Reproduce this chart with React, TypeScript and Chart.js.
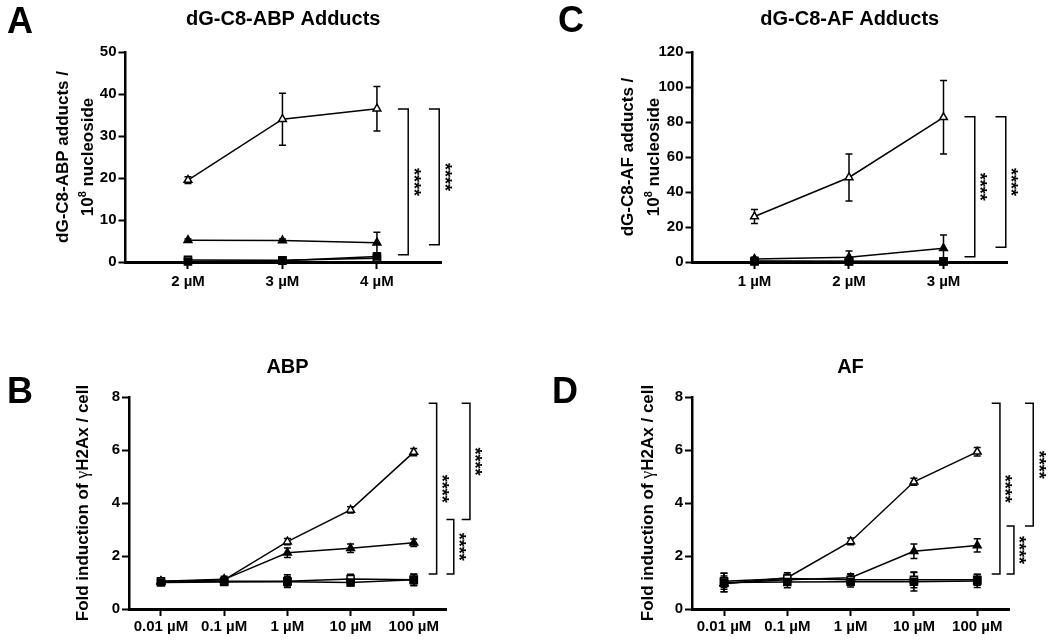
import React, { useEffect, useRef } from "react";
import { Chart, registerables } from "chart.js";

Chart.register(...registerables);

const FONT = '"Liberation Sans", Arial, Helvetica, sans-serif';
const SERIF = '"Liberation Serif", "DejaVu Serif", serif';

// ---------------- Panel A : dG-C8-ABP adducts ----------------
const aDoses = [2, 3, 4];
const aTickLabels = ["2 µM", "3 µM", "4 µM"];
const aOpenTri = [19.5, 34.0, 36.5];
const aOpenTriErr = [0.8, 6.2, 5.3];
const aFilledTri = [5.2, 5.1, 4.6];
const aFilledTriErr = [0.3, 0.4, 2.5];
const aOpenSq = [0.5, 0.4, 0.9];
const aOpenSqErr = [0.3, 0.3, 0.5];
const aFilledSq = [0.1, 0.3, 1.3];
const aFilledSqErr = [0.2, 0.3, 0.9];
// significance brackets: [bracket x, tick end x, top value, bottom value]
const aBrackets = [
  [4.331, 4.222, 36.4, 1.7],
  [4.659, 4.55, 36.4, 4.1],
];

// ---------------- Panel C : dG-C8-AF adducts ----------------
const cDoses = [1, 2, 3];
const cTickLabels = ["1 µM", "2 µM", "3 µM"];
const cOpenTri = [26.0, 48.3, 82.7];
const cOpenTriErr = [4.0, 13.4, 21.0];
const cFilledTri = [1.7, 2.7, 7.8];
const cFilledTriErr = [1.0, 3.6, 7.6];
const cOpenSq = [0.6, 0.5, 0.4];
const cOpenSqErr = [0.3, 0.3, 0.3];
const cFilledSq = [0.3, 0.3, 0.3];
const cFilledSqErr = [0.2, 0.2, 0.2];
const cBrackets = [
  [3.331, 3.222, 83.0, 3.0],
  [3.659, 3.55, 83.0, 8.4],
];

// ---------------- Panel B : ABP gammaH2Ax ----------------
const bDoses = [0, 1, 2, 3, 4];
const bTickLabels = ["0.01 µM", "0.1 µM", "1 µM", "10 µM", "100 µM"];
const bOpenTri = [1.03, 1.1, 2.54, 3.74, 5.92];
const bOpenTriErr = [0.08, 0.1, 0.12, 0.12, 0.14];
const bFilledTri = [1.05, 1.12, 2.12, 2.29, 2.5];
const bFilledTriErr = [0.08, 0.12, 0.18, 0.16, 0.14];
const bOpenSq = [1.05, 1.05, 1.05, 1.13, 1.1];
const bOpenSqErr = [0.1, 0.12, 0.24, 0.18, 0.2];
const bFilledSq = [1.0, 1.02, 1.03, 1.0, 1.1];
const bFilledSqErr = [0.08, 0.08, 0.2, 0.12, 0.22];
const bBrackets = [
  [4.362, 4.236, 7.76, 1.32],
  [4.889, 4.758, 7.76, 3.38],
  [4.633, 4.517, 3.38, 1.32],
];

// ---------------- Panel D : AF gammaH2Ax ----------------
const dDoses = [0, 1, 2, 3, 4];
const dTickLabels = ["0.01 µM", "0.1 µM", "1 µM", "10 µM", "100 µM"];
const dOpenTri = [0.95, 1.18, 2.55, 4.8, 5.93];
const dOpenTriErr = [0.3, 0.12, 0.13, 0.13, 0.16];
const dFilledTri = [0.97, 1.1, 1.18, 2.18, 2.4];
const dFilledTriErr = [0.15, 0.2, 0.15, 0.27, 0.25];
const dOpenSq = [1.05, 1.15, 1.1, 1.1, 1.1];
const dOpenSqErr = [0.3, 0.22, 0.2, 0.3, 0.2];
const dFilledSq = [1.0, 1.02, 1.03, 1.03, 1.06];
const dFilledSqErr = [0.35, 0.22, 0.2, 0.35, 0.25];
const dBrackets = [
  [4.359, 4.229, 7.76, 1.32],
  [4.885, 4.754, 7.76, 3.13],
  [4.58, 4.464, 3.13, 1.32],
];

type Seg = { t: string; sup?: boolean; greek?: boolean };

function series(xs: number[], ys: number[], errs: number[], kind: string) {
  const tri = kind.indexOf("Tri") >= 0;
  const open = kind.indexOf("open") === 0;
  return {
    label: kind,
    data: xs.map((x, i) => ({ x, y: ys[i] })),
    errors: errs,
    borderColor: "#000",
    borderWidth: 1.5,
    pointStyle: tri ? "triangle" : "rect",
    pointRadius: tri ? 4.5 : 5,
    pointBackgroundColor: open ? "#fff" : "#000",
    pointBorderColor: "#000",
    pointBorderWidth: 1.5,
    tension: 0,
    fill: false,
    clip: false,
  };
}

const adductLine2: Seg[] = [{ t: "10" }, { t: "8", sup: true }, { t: " nucleoside" }];
const foldLabel: Seg[] = [{ t: "Fold induction of " }, { t: "γ", greek: true }, { t: "H2Ax / cell" }];

const panels = [
  {
    key: "A",
    letter: "A",
    title: "dG-C8-ABP Adducts",
    box: { left: 0, top: 0, width: 525, height: 322 },
    pad: { left: 65.5, right: 84, top: 52 },
    xAxisH: 60,
    xTickPad: 4,
    xMin: 1.339,
    xMax: 4.678,
    xs: aDoses,
    xLabels: aTickLabels,
    yMax: 50,
    yStep: 10,
    sets: [
      series(aDoses, aFilledSq, aFilledSqErr, "filledSq"),
      series(aDoses, aOpenSq, aOpenSqErr, "openSq"),
      series(aDoses, aFilledTri, aFilledTriErr, "filledTri"),
      series(aDoses, aOpenTri, aOpenTriErr, "openTri"),
    ],
    brackets: aBrackets,
    letterPos: [7, 33],
    titleBase: 25,
    yLabel: [[{ t: "dG-C8-ABP adducts /" }], adductLine2] as Seg[][],
    yLabelX: [68, 93],
  },
  {
    key: "C",
    letter: "C",
    title: "dG-C8-AF Adducts",
    box: { left: 525, top: 0, width: 525, height: 322 },
    pad: { left: 107.5, right: 43, top: 52 },
    xAxisH: 60,
    xTickPad: 4,
    xMin: 0.344,
    xMax: 3.672,
    xs: cDoses,
    xLabels: cTickLabels,
    yMax: 120,
    yStep: 20,
    sets: [
      series(cDoses, cFilledSq, cFilledSqErr, "filledSq"),
      series(cDoses, cOpenSq, cOpenSqErr, "openSq"),
      series(cDoses, cFilledTri, cFilledTriErr, "filledTri"),
      series(cDoses, cOpenTri, cOpenTriErr, "openTri"),
    ],
    brackets: cBrackets,
    letterPos: [33, 32],
    titleBase: 25,
    yLabel: [[{ t: "dG-C8-AF adducts /" }], adductLine2] as Seg[][],
    yLabelX: [108, 134],
  },
  {
    key: "B",
    letter: "B",
    title: "ABP",
    box: { left: 0, top: 322, width: 525, height: 322 },
    pad: { left: 69, right: 79, top: 75 },
    xAxisH: 35,
    xTickPad: 2,
    xMin: -0.506,
    xMax: 4.51,
    xs: bDoses,
    xLabels: bTickLabels,
    yMax: 8,
    yStep: 2,
    sets: [
      series(bDoses, bFilledSq, bFilledSqErr, "filledSq"),
      series(bDoses, bOpenSq, bOpenSqErr, "openSq"),
      series(bDoses, bFilledTri, bFilledTriErr, "filledTri"),
      series(bDoses, bOpenTri, bOpenTriErr, "openTri"),
    ],
    brackets: bBrackets,
    letterPos: [7, 81],
    titleBase: 51,
    yLabel: [foldLabel] as Seg[][],
    yLabelX: [88],
  },
  {
    key: "D",
    letter: "D",
    title: "AF",
    box: { left: 525, top: 322, width: 525, height: 322 },
    pad: { left: 107, right: 41, top: 75 },
    xAxisH: 35,
    xTickPad: 2,
    xMin: -0.506,
    xMax: 4.502,
    xs: dDoses,
    xLabels: dTickLabels,
    yMax: 8,
    yStep: 2,
    sets: [
      series(dDoses, dFilledSq, dFilledSqErr, "filledSq"),
      series(dDoses, dOpenSq, dOpenSqErr, "openSq"),
      series(dDoses, dFilledTri, dFilledTriErr, "filledTri"),
      series(dDoses, dOpenTri, dOpenTriErr, "openTri"),
    ],
    brackets: dBrackets,
    letterPos: [27, 81],
    titleBase: 51,
    yLabel: [foldLabel] as Seg[][],
    yLabelX: [128],
  },
];

type PanelCfg = (typeof panels)[number];

function makePlugin(cfg: PanelCfg) {
  return {
    id: "deco" + cfg.key,
    beforeDatasetsDraw(chart: any) {
      const ctx = chart.ctx;
      const xs = chart.scales.x;
      const ys = chart.scales.y;
      ctx.save();
      ctx.strokeStyle = "#000";
      ctx.lineWidth = 1.5;
      chart.data.datasets.forEach((d: any) => {
        d.data.forEach((p: any, i: number) => {
          const e = d.errors[i];
          const px = xs.getPixelForValue(p.x);
          const yTop = ys.getPixelForValue(p.y + e);
          const yBot = ys.getPixelForValue(p.y - e);
          const cap = 3.5;
          ctx.beginPath();
          ctx.moveTo(px, yTop);
          ctx.lineTo(px, yBot);
          ctx.moveTo(px - cap, yTop);
          ctx.lineTo(px + cap, yTop);
          ctx.moveTo(px - cap, yBot);
          ctx.lineTo(px + cap, yBot);
          ctx.stroke();
        });
      });
      ctx.restore();
    },
    afterDraw(chart: any) {
      const ctx = chart.ctx;
      const ca = chart.chartArea;
      const xs = chart.scales.x;
      const ys = chart.scales.y;
      ctx.save();
      ctx.fillStyle = "#000";
      ctx.strokeStyle = "#000";
      // panel letter
      ctx.font = `bold 36px ${FONT}`;
      ctx.textAlign = "left";
      ctx.textBaseline = "alphabetic";
      ctx.fillText(cfg.letter, cfg.letterPos[0], cfg.letterPos[1]);
      // title
      ctx.font = `bold 20px ${FONT}`;
      ctx.textAlign = "center";
      ctx.fillText(cfg.title, (ca.left + ca.right) / 2, cfg.titleBase);
      // y axis title
      const cy = (ca.top + ca.bottom) / 2;
      const fontFor = (s: Seg) =>
        s.sup ? `bold 11px ${FONT}` : s.greek ? `18px ${SERIF}` : `bold 17px ${FONT}`;
      cfg.yLabel.forEach((segs, li) => {
        ctx.save();
        ctx.translate(cfg.yLabelX[li], cy);
        ctx.rotate(-Math.PI / 2);
        ctx.textAlign = "left";
        let total = 0;
        const widths = segs.map((s) => {
          ctx.font = fontFor(s);
          const w = ctx.measureText(s.t).width;
          total += w;
          return w;
        });
        let x = -total / 2;
        segs.forEach((s, i) => {
          ctx.font = fontFor(s);
          ctx.fillText(s.t, x, s.sup ? -7 : 0);
          x += widths[i];
        });
        ctx.restore();
      });
      // significance brackets
      ctx.lineWidth = 1.5;
      cfg.brackets.forEach((b) => {
        const X = xs.getPixelForValue(b[0]);
        const T = xs.getPixelForValue(b[1]);
        const Y1 = ys.getPixelForValue(b[2]);
        const Y2 = ys.getPixelForValue(b[3]);
        ctx.beginPath();
        ctx.moveTo(T, Y1);
        ctx.lineTo(X, Y1);
        ctx.lineTo(X, Y2);
        ctx.lineTo(T, Y2);
        ctx.stroke();
        ctx.save();
        ctx.font = `bold 18px ${FONT}`;
        const m = ctx.measureText("****");
        const off = (m.actualBoundingBoxAscent - m.actualBoundingBoxDescent) / 2;
        ctx.translate(X + 9 - off, (Y1 + Y2) / 2);
        ctx.rotate(Math.PI / 2);
        ctx.textAlign = "center";
        ctx.textBaseline = "alphabetic";
        ctx.fillText("****", 0, 0);
        ctx.restore();
      });
      ctx.restore();
    },
  };
}

function Panel({ cfg }: { cfg: PanelCfg }) {
  const ref = useRef<HTMLCanvasElement>(null);
  useEffect(() => {
    const tickFont = { family: FONT, size: 15, weight: "bold" as const };
    const chart = new Chart(ref.current as HTMLCanvasElement, {
      type: "line",
      data: { datasets: cfg.sets as any },
      options: {
        animation: false,
        responsive: false,
        maintainAspectRatio: false,
        events: [],
        layout: { padding: { left: cfg.pad.left, right: cfg.pad.right, top: cfg.pad.top, bottom: 0 } },
        plugins: { legend: { display: false }, tooltip: { enabled: false }, title: { display: false } },
        scales: {
          x: {
            type: "linear",
            min: cfg.xMin,
            max: cfg.xMax,
            afterBuildTicks: (axis: any) => {
              axis.ticks = cfg.xs.map((v) => ({ value: v }));
            },
            afterFit: (axis: any) => {
              axis.height = cfg.xAxisH;
            },
            ticks: {
              callback: (_v: any, i: number) => cfg.xLabels[i],
              font: tickFont,
              color: "#000",
              padding: cfg.xTickPad,
              autoSkip: false,
              maxRotation: 0,
            },
            grid: { drawOnChartArea: false, drawTicks: true, tickLength: 7, tickWidth: 2, tickColor: "#000", color: "#000" },
            border: { display: true, color: "#000", width: 3 },
          },
          y: {
            type: "linear",
            min: 0,
            max: cfg.yMax,
            afterFit: (axis: any) => {
              axis.width = 60;
            },
            ticks: { stepSize: cfg.yStep, font: tickFont, color: "#000", padding: 2 },
            grid: { drawOnChartArea: false, drawTicks: true, tickLength: 7, tickWidth: 2, tickColor: "#000", color: "#000" },
            border: { display: true, color: "#000", width: 2.5 },
          },
        },
      } as any,
      plugins: [makePlugin(cfg)],
    });
    return () => chart.destroy();
  }, []);
  return (
    <div style={{ position: "absolute", left: cfg.box.left, top: cfg.box.top, width: cfg.box.width, height: cfg.box.height }}>
      <canvas
        ref={ref}
        width={cfg.box.width}
        height={cfg.box.height}
        style={{ width: cfg.box.width, height: cfg.box.height, display: "block" }}
      />
    </div>
  );
}

export default function App() {
  return (
    <div style={{ position: "absolute", left: 0, top: 0, width: 1050, height: 644, background: "#fff", overflow: "hidden" }}>
      {panels.map((p) => (
        <Panel key={p.key} cfg={p} />
      ))}
    </div>
  );
}
